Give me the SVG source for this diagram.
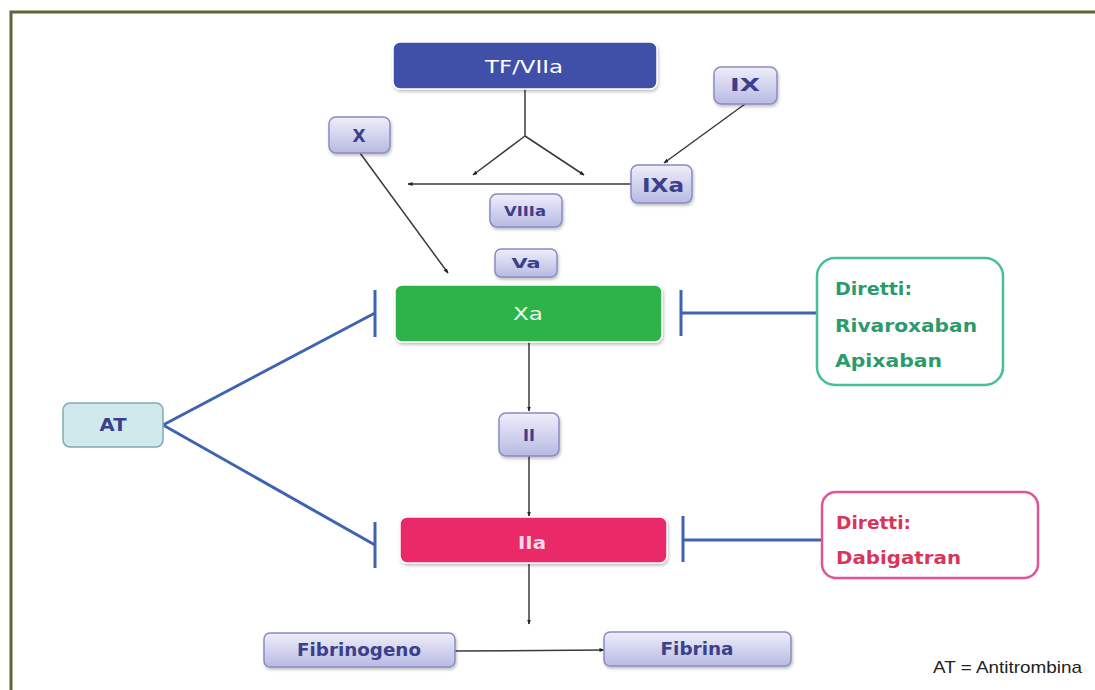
<svg xmlns="http://www.w3.org/2000/svg" width="1095" height="690" viewBox="0 0 1095 690">
<defs>
<linearGradient id="lav" x1="0" y1="0" x2="0" y2="1">
<stop offset="0" stop-color="#eeeefb"/>
<stop offset="1" stop-color="#b9b9e3"/>
</linearGradient>
<filter id="sh" x="-20%" y="-20%" width="140%" height="150%">
<feDropShadow dx="1" dy="2" stdDeviation="1.5" flood-color="#000" flood-opacity="0.25"/>
</filter>
<marker id="ah" viewBox="0 0 10 10" refX="9" refY="5" markerWidth="5" markerHeight="5" orient="auto" markerUnits="userSpaceOnUse">
<path d="M0,1 L10,5 L0,9 z" fill="#222"/>
</marker>
</defs>
<style>
.lv{fill:url(#lav);stroke:#8b8bc4;stroke-width:1.5;filter:url(#sh)}
.lt{font-family:"DejaVu Sans",Verdana,sans-serif;font-weight:bold;fill:#3b3f8c;text-anchor:middle;dominant-baseline:central}
.wt{font-family:"DejaVu Sans",Verdana,sans-serif;text-anchor:middle;dominant-baseline:central}
.ar{stroke:#3a3a3a;stroke-width:1.5;fill:none;marker-end:url(#ah)}
.ln{stroke:#3a3a3a;stroke-width:1.5;fill:none}
.inh{stroke:#3d63b2;stroke-width:3;fill:none}
.dt{font-family:"DejaVu Sans",Verdana,sans-serif;font-weight:bold;font-size:18px;dominant-baseline:central}
</style>
<rect width="1095" height="690" fill="#fff"/>
<path d="M11,690 V12 H1095" fill="none" stroke="#62653a" stroke-width="3"/>

<g id="connectors">
<line class="ln" x1="525" y1="89" x2="525" y2="136"/>
<line class="ar" x1="525" y1="136" x2="473" y2="175"/>
<line class="ar" x1="525" y1="136" x2="584" y2="175"/>
<line class="ar" x1="631" y1="184" x2="408" y2="184"/>
<line class="ar" x1="745" y1="104" x2="664" y2="163"/>
<line class="ar" x1="360" y1="153" x2="448" y2="273"/>
<line class="ar" x1="529" y1="342" x2="529" y2="411"/>
<line class="ar" x1="529" y1="456" x2="529" y2="516"/>
<line class="ar" x1="529" y1="564" x2="529" y2="624"/>
<line class="ar" x1="455" y1="651" x2="604" y2="650"/>
<line class="inh" x1="163" y1="425" x2="375" y2="313"/>
<line class="inh" x1="375" y1="290" x2="375" y2="337"/>
<line class="inh" x1="163" y1="425" x2="375" y2="545"/>
<line class="inh" x1="375" y1="522" x2="375" y2="568"/>
<line class="inh" x1="817" y1="313" x2="681" y2="313"/>
<line class="inh" x1="681" y1="290" x2="681" y2="336"/>
<line class="inh" x1="822" y1="540" x2="683" y2="540"/>
<line class="inh" x1="683" y1="516" x2="683" y2="562"/>
</g>

<g id="tf7a">
<rect x="393" y="42" width="264" height="47" rx="7" fill="#4150a8" stroke="#ffffff" stroke-width="1.5" filter="url(#sh)"/>
<text class="wt" x="524" y="67" fill="#ffffff" font-size="17" textLength="78" lengthAdjust="spacingAndGlyphs">TF/VIIa</text>
</g>
<g id="ix">
<rect class="lv" x="714" y="67" width="63" height="37" rx="7"/>
<text class="lt" x="745" y="85" font-size="17" textLength="30" lengthAdjust="spacingAndGlyphs">IX</text>
</g>
<g id="x">
<rect class="lv" x="329" y="117" width="61" height="36" rx="7"/>
<text class="lt" x="359" y="136" font-size="17">X</text>
</g>
<g id="ixa">
<rect class="lv" x="631" y="165" width="61" height="38" rx="7"/>
<text class="lt" x="663" y="185" font-size="19" textLength="42" lengthAdjust="spacingAndGlyphs">IXa</text>
</g>
<g id="viiia">
<rect class="lv" x="490" y="194" width="72" height="33" rx="7"/>
<text class="lt" x="525" y="211" font-size="14" textLength="42" lengthAdjust="spacingAndGlyphs">VIIIa</text>
</g>
<g id="va">
<rect class="lv" x="495" y="249" width="62" height="28" rx="6"/>
<text class="lt" x="526" y="263" font-size="14" textLength="29" lengthAdjust="spacingAndGlyphs">Va</text>
</g>
<g id="xa">
<rect x="395" y="285" width="267" height="57" rx="7" fill="#2eb34c" stroke="#ffffff" stroke-width="1.5" filter="url(#sh)"/>
<text class="wt" x="528" y="313" fill="#e8f7e8" font-size="18" textLength="30" lengthAdjust="spacingAndGlyphs">Xa</text>
</g>
<g id="ii">
<rect class="lv" x="499" y="413" width="60" height="43" rx="7"/>
<text class="lt" x="529" y="435" font-size="16">II</text>
</g>
<g id="iia">
<rect x="400" y="517" width="267" height="46" rx="7" fill="#ea2a68" stroke="#ffffff" stroke-width="1.5" filter="url(#sh)"/>
<text class="wt" x="532" y="542" fill="#f8d8e2" font-size="18" font-weight="bold" textLength="28" lengthAdjust="spacingAndGlyphs">IIa</text>
</g>
<g id="at">
<rect x="63" y="403" width="100" height="44" rx="7" fill="#cfe9ec" stroke="#82a8b4" stroke-width="1.5"/>
<text class="lt" x="113" y="425" font-size="17" textLength="27" lengthAdjust="spacingAndGlyphs">AT</text>
</g>
<g id="fibrinogeno">
<rect class="lv" x="264" y="633" width="191" height="34" rx="6"/>
<text class="lt" x="359" y="650" font-size="17" textLength="124" lengthAdjust="spacingAndGlyphs">Fibrinogeno</text>
</g>
<g id="fibrina">
<rect class="lv" x="604" y="632" width="187" height="34" rx="6"/>
<text class="lt" x="697" y="649" font-size="17" textLength="73" lengthAdjust="spacingAndGlyphs">Fibrina</text>
</g>
<g id="diretti-xa">
<rect x="817" y="258" width="186" height="127" rx="18" fill="#ffffff" stroke="#49bd9c" stroke-width="2.5"/>
<text class="dt" x="835" y="288" fill="#2b9a6c" textLength="77" lengthAdjust="spacingAndGlyphs">Diretti:</text>
<text class="dt" x="835" y="325" fill="#2b9a6c" textLength="142" lengthAdjust="spacingAndGlyphs">Rivaroxaban</text>
<text class="dt" x="835" y="360" fill="#2b9a6c" textLength="107" lengthAdjust="spacingAndGlyphs">Apixaban</text>
</g>
<g id="diretti-iia">
<rect x="822" y="492" width="216" height="86" rx="14" fill="#ffffff" stroke="#e0559a" stroke-width="2.5"/>
<text class="dt" x="836" y="522" fill="#d8345c" textLength="75" lengthAdjust="spacingAndGlyphs">Diretti:</text>
<text class="dt" x="836" y="557" fill="#d8345c" textLength="125" lengthAdjust="spacingAndGlyphs">Dabigatran</text>
</g>
<g id="legend">
<text x="933" y="673" font-family="'Liberation Sans',Arial,sans-serif" font-size="17" fill="#222" textLength="149" lengthAdjust="spacingAndGlyphs">AT = Antitrombina</text>
</g>
</svg>
